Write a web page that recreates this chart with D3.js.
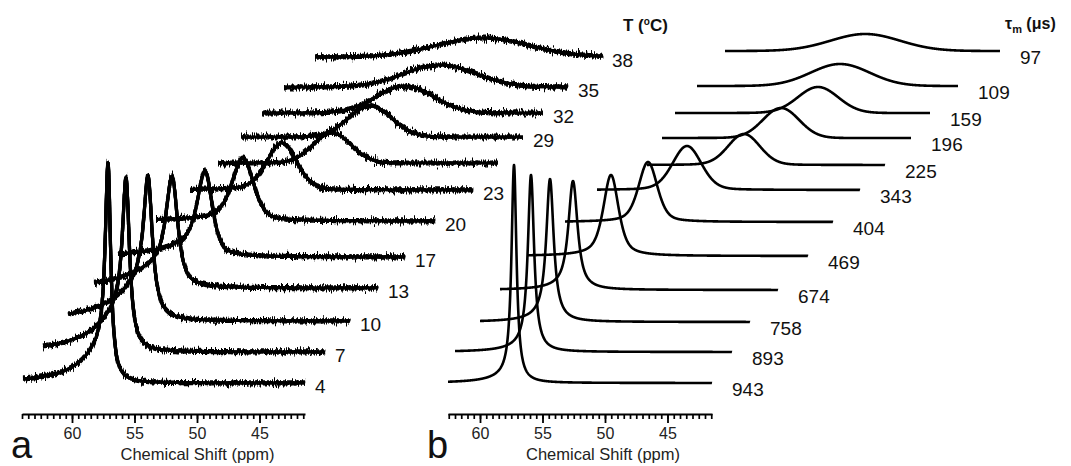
<!DOCTYPE html>
<html>
<head>
<meta charset="utf-8">
<script src="https://cdn.jsdelivr.net/npm/d3@7"></script>
<style>
  body { margin: 0; background: #fff; }
  svg { display: block; font-family: "Liberation Sans", Arial, sans-serif; }
</style>
</head>
<body>
<script>
// ---- panel a : measured spectra vs temperature (ppm values as displayed, stacked) ----
const tempLabels = ["4", "7", "10", "13", "17", "20", "23", "", "29", "32", "35", "38"];
const startA  = [63.92, 62.32, 60.32, 58.24, 56.32, 53.28, 50.56, 48.32, 46.48, 44.80, 43.04, 40.56];
const endA    = [41.36, 39.76, 37.76, 35.52, 33.36, 30.96, 27.92, 25.92, 23.92, 22.32, 20.32, 17.60];
const peakA   = [57.12, 55.68, 53.92, 52.00, 49.36, 46.32, 43.20, 39.20, 36.16, 33.36, 30.56, 27.12];
const heightA = [220, 174, 145, 112, 86, 63, 47, 30, 31, 27, 22, 19];
const hwhmA   = [0.26, 0.34, 0.42, 0.54, 0.70, 1.00, 1.40, 1.80, 2.05, 2.70, 3.40, 4.40];
const lorA    = [1, 1, 1, 0.8, 0.6, 0.4, 0.2, 0, 0, 0, 0, 0];
const wingA   = [0.18, 0.25, 0.28, 0.25, 0.2, 0.1, 0.05, 0, 0, 0, 0, 0];
const wingWA  = [2.2, 2.6, 2.8, 3.0, 3.0, 3.0, 3.0, 3.0, 3.0, 3.0, 3.0, 3.0];
const stackA  = [0, 31, 62, 95, 126, 162, 193, 220, 246, 270, 296, 326];

// ---- panel b : simulated spectra vs tau_m ----
const tauLabels = ["943", "893", "758", "674", "469", "404", "343", "225", "196", "159", "109", "97"];
const startB  = [62.56, 62.00, 60.00, 58.40, 56.24, 53.20, 50.64, 46.64, 45.44, 44.40, 42.64, 40.40];
const endB    = [41.44, 39.84, 38.40, 36.16, 33.76, 31.76, 29.60, 27.60, 25.52, 24.00, 21.76, 18.40];
const peakB   = [57.28, 55.92, 54.40, 52.56, 49.52, 46.56, 43.44, 38.88, 35.92, 32.96, 31.20, 29.20];
const heightB = [218, 177, 143, 109, 81, 60, 44, 31, 30, 26, 22, 17];
const hwhmB   = [0.24, 0.30, 0.36, 0.44, 0.72, 0.88, 1.36, 1.50, 1.70, 1.90, 2.80, 3.30];
const lorB    = [1, 1, 1, 0.9, 0.6, 0.4, 0.2, 0.1, 0, 0, 0, 0];
const stackB  = [0, 31, 61, 93, 127, 161, 193, 218, 245, 270, 297, 332];

const majorTicks = [60, 55, 50, 45];

const W = 1071, H = 466;
const svg = d3.select("body").append("svg")
  .attr("width", W)
  .attr("height", H);

// noise look for the measured traces (vertical jitter only)
const defs = svg.append("defs");
const filt = defs.append("filter")
  .attr("id", "noisy")
  .attr("filterUnits", "userSpaceOnUse")
  .attr("x", 0).attr("y", 0).attr("width", W).attr("height", H);
[[7, "t1", "d1", 14], [19, "t2", "d2", 10], [31, "t3", "d3", 6]].forEach(([seed, t, out, sc]) => {
  filt.append("feTurbulence")
    .attr("type", "fractalNoise")
    .attr("baseFrequency", "0.9 0.05")
    .attr("numOctaves", 3)
    .attr("seed", seed)
    .attr("result", t);
  filt.append("feColorMatrix")
    .attr("in", t)
    .attr("type", "matrix")
    .attr("values", "0 0 0 0 0.5  0 1 0 0 0  0 0 1 0 0  0 0 0 0 1")
    .attr("result", t + "m");
  filt.append("feDisplacementMap")
    .attr("in", "SourceGraphic")
    .attr("in2", t + "m")
    .attr("scale", sc)
    .attr("xChannelSelector", "R")
    .attr("yChannelSelector", "G")
    .attr("result", out);
});
const merge = filt.append("feMerge");
["d1", "d2", "d3", "SourceGraphic"].forEach(n => merge.append("feMergeNode").attr("in", n));

// scales
const xA = d3.scaleLinear().domain([64, 41.36]).range([22, 305]);
const xB = d3.scaleLinear().domain([62.56, 41.44]).range([448, 712]);
const y  = d3.scaleLinear().domain([0, 330]).range([383, 53]);

// lineshape: pseudo-voigt core with optional downfield wing
function shape(d, hw, lor, wing, ww) {
  const l = 1 / (1 + (d / hw) ** 2);
  const g = Math.exp(-Math.LN2 * (d / hw) ** 2);
  const core = lor * l + (1 - lor) * g;
  const tail = d > 0 ? 1 / (1 + (d / ww) ** 2) : core;
  return (1 - wing) * core + wing * tail;
}

function tracePoints(i, s) {
  const pts = [];
  for (let p = s.start[i]; p >= s.end[i]; p -= 0.02) {
    const v = s.height[i] * shape(p - s.peak[i], s.hwhm[i], s.lor[i], s.wing[i], s.wingW[i]);
    pts.push([p, s.stack[i] + v]);
  }
  pts.push([s.end[i], s.stack[i]]);
  return pts;
}

function drawPanel(s, x, opts) {
  const line = d3.line().x(d => x(d[0])).y(d => y(d[1]));
  const g = svg.append("g");
  const traces = g.append("g")
    .attr("fill", "none")
    .attr("stroke", "#000")
    .attr("stroke-width", opts.stroke)
    .attr("stroke-linejoin", "round");
  if (opts.noisy) traces.attr("filter", "url(#noisy)");

  traces.selectAll("path")
    .data(d3.range(s.labels.length))
    .join("path")
    .attr("d", i => line(tracePoints(i, s)));

  g.selectAll(".lab")
    .data(d3.range(s.labels.length))
    .join("text")
    .attr("class", "lab")
    .attr("x", i => x(s.end[i]) + opts.labDx)
    .attr("y", i => y(s.stack[i]) + opts.labDy)
    .attr("dominant-baseline", "central")
    .attr("font-size", 19)
    .attr("fill", "#111")
    .text(i => s.labels[i]);

  // ruler-like axis
  const [d0, d1] = x.domain();
  const minor = d3.range(Math.ceil(d1 * 2) / 2, d0 + 0.001, 0.5);
  const axY = 414;
  const minorAx = g.append("g")
    .attr("transform", `translate(0,${axY})`)
    .call(d3.axisBottom(x).tickValues(minor).tickSize(5).tickSizeOuter(0).tickFormat(""));
  minorAx.select(".domain").attr("stroke-width", 2.2);
  minorAx.selectAll(".tick line").attr("stroke-width", 1.7);

  const majorAx = g.append("g")
    .attr("transform", `translate(0,${axY})`)
    .call(d3.axisBottom(x).tickValues(majorTicks).tickSize(9).tickPadding(5).tickFormat(d3.format("d")));
  majorAx.select(".domain").remove();
  majorAx.selectAll(".tick line").attr("stroke-width", 1.8);
  majorAx.selectAll(".tick text")
    .attr("font-size", 16)
    .attr("font-family", "Liberation Sans, Arial, sans-serif")
    .attr("fill", "#222");

  g.append("text")
    .attr("x", (x(d0) + x(d1)) / 2 + opts.titleDx)
    .attr("y", 460)
    .attr("text-anchor", "middle")
    .attr("font-size", 16.5)
    .attr("fill", "#222")
    .text("Chemical Shift (ppm)");

  g.append("text")
    .attr("x", opts.letterX)
    .attr("y", 458)
    .attr("font-size", 38)
    .attr("fill", "#111")
    .text(opts.letter);
}

drawPanel({
  labels: tempLabels, start: startA, end: endA, peak: peakA, height: heightA,
  hwhm: hwhmA, lor: lorA, wing: wingA, wingW: wingWA, stack: stackA
}, xA, { stroke: 3.2, noisy: true, labDx: 10, labDy: 3, titleDx: 34, letter: "a", letterX: 11 });

drawPanel({
  labels: tauLabels, start: startB, end: endB, peak: peakB, height: heightB,
  hwhm: hwhmB, lor: lorB, wing: tauLabels.map(() => 0.03), wingW: tauLabels.map(() => 2),
  stack: stackB
}, xB, { stroke: 2.6, noisy: false, labDx: 20, labDy: 6, titleDx: 23, letter: "b", letterX: 427 });

// column headers
const hdrA = svg.append("text")
  .attr("x", 623).attr("y", 31)
  .attr("font-size", 17).attr("font-weight", "bold").attr("fill", "#111");
hdrA.append("tspan").text("T (");
hdrA.append("tspan").attr("font-size", 10).attr("dy", -6).text("o");
hdrA.append("tspan").attr("dy", 6).text("C)");

const hdrB = svg.append("text")
  .attr("x", 1005).attr("y", 29)
  .attr("font-size", 16).attr("font-weight", "bold").attr("fill", "#111");
hdrB.append("tspan").text("τ");
hdrB.append("tspan").attr("font-size", 11).attr("dy", 4).text("m");
hdrB.append("tspan").attr("dy", -4).text(" (μs)");
</script>
</body>
</html>
